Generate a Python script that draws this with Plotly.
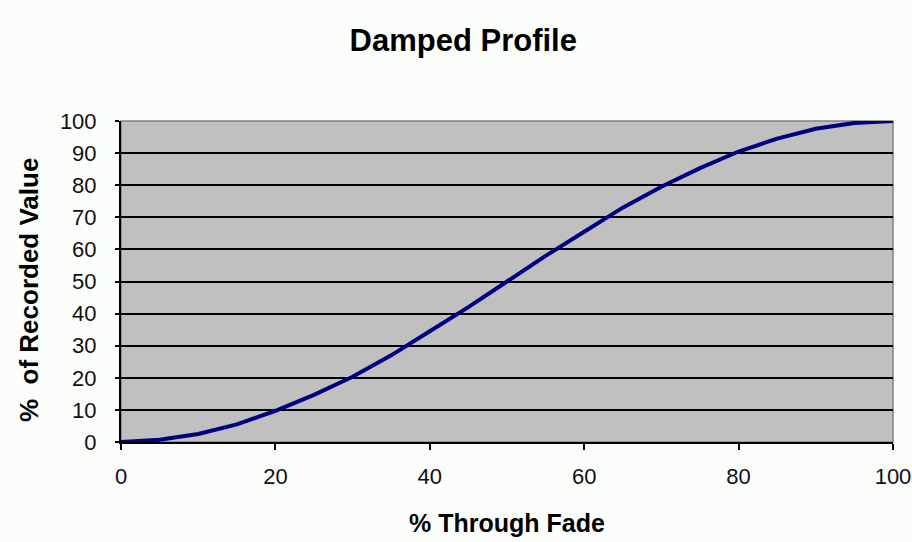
import plotly.graph_objects as go

# Fade position (%) and the resulting share of the recorded value (%)
fade_pct = [0, 5, 10, 15, 20, 25, 30, 35, 40, 45, 50, 55, 60, 65, 70, 75, 80, 85, 90, 95, 100]
recorded_pct = [0, 0.7, 2.5, 5.5, 9.7, 14.7, 20.3, 27.0, 34.5, 42.0, 50.0, 58.0, 65.5, 73.0, 79.5, 85.3, 90.5, 94.5, 97.6, 99.4, 100]

x_ticks = [0, 20, 40, 60, 80, 100]
y_ticks = [0, 10, 20, 30, 40, 50, 60, 70, 80, 90, 100]

fig = go.Figure(
    go.Scatter(
        x=fade_pct,
        y=recorded_pct,
        mode="lines",
        line=dict(color="#000080", width=4),
        hoverinfo="x+y",
    )
)

tick_font = dict(family="Liberation Sans, Arial, sans-serif", size=22, color="#111111")
title_font = dict(family="Liberation Sans, Arial, sans-serif", size=25, color="#000000")

fig.update_layout(
    width=912,
    height=542,
    margin=dict(l=121, r=19, t=121, b=100),
    paper_bgcolor="#FBFDFB",
    plot_bgcolor="#C0C0C0",
    showlegend=False,
    title=dict(
        text="<b>Damped Profile</b>",
        x=0.508,
        xanchor="center",
        y=0.926,
        yanchor="middle",
        font=dict(family="Liberation Sans, Arial, sans-serif", size=31, color="#000000"),
    ),
    xaxis=dict(
        range=[0, 100],
        tickvals=x_ticks,
        automargin=False,
        ticks="outside",
        ticklen=6,
        tickwidth=1.5,
        tickcolor="#000000",
        showline=True,
        linecolor="#000000",
        linewidth=2,
        showgrid=False,
        zeroline=False,
        tickfont=tick_font,
        ticklabelstandoff=8,
        title=dict(text="<b>% Through Fade</b>", font=title_font, standoff=26),
    ),
    yaxis=dict(
        range=[0, 100],
        tickvals=y_ticks,
        automargin=False,
        ticks="outside",
        ticklen=4,
        tickwidth=1.5,
        tickcolor="#000000",
        showline=True,
        linecolor="#000000",
        linewidth=2,
        showgrid=True,
        gridcolor="#000000",
        gridwidth=1.5,
        zeroline=False,
        tickfont=tick_font,
        ticklabelstandoff=14,
    ),
)

# Vertical y-axis title, placed a little below the plot's mid-height
fig.add_annotation(
    text="<b>%  of Recorded Value</b>",
    xref="paper", yref="paper", x=0, y=0.4735,
    xanchor="center", yanchor="middle", xshift=-92,
    textangle=-90, showarrow=False,
    font=dict(family="Liberation Sans, Arial, sans-serif", size=26, color="#000000"),
)

# Thin grey frame on the top and right of the plot area
fig.add_shape(
    type="rect", xref="paper", yref="paper", x0=0, y0=0, x1=1, y1=1,
    line=dict(color="#808080", width=1.5), layer="below",
)

fig.write_html("out.html")
